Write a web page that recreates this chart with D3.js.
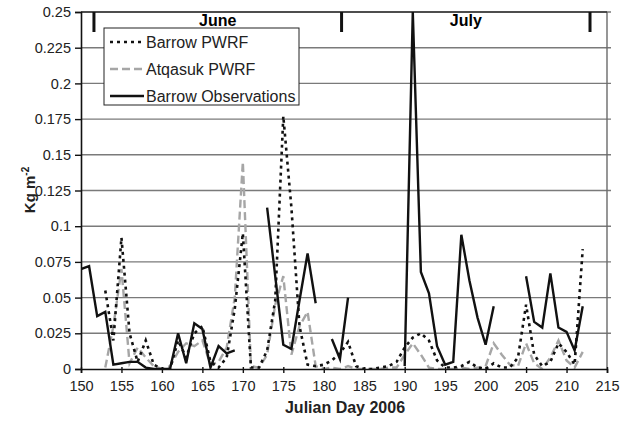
<!DOCTYPE html>
<html><head><meta charset="utf-8">
<script src="https://cdn.jsdelivr.net/npm/d3@7/dist/d3.min.js"></script>
<style>body{margin:0;background:#fff}svg{display:block}</style>
</head><body><svg id="c" width="628" height="421"></svg>
<script>
// ---- data (Julian days 150..212) ----
const days = d3.range(150, 213);
const barrowObs = [0.070,0.072,0.037,0.040,0.003,0.004,0.005,0.005,0.001,0,
  0,0,0.025,0.004,0.032,0.028,0.001,0.016,0.011,0.013,
  null,null,null,0.113,0.065,0.017,0.014,0.048,0.081,0.046,
  null,0.021,0.007,0.050,null,null,null,null,null,null,
  0.002,0.25,0.068,0.053,0.016,0.003,0.005,0.094,0.062,0.036,
  0.017,0.044,null,null,null,0.065,0.033,0.029,0.067,0.029,
  0.026,0.013,0.044];
const barrowPWRF = [null,null,null,0.055,0.02,0.092,0.025,0.005,0.02,0.003,
  0,0,0.02,0.008,0.025,0.03,0.005,0.001,0.008,0.042,
  0.095,0.001,0.001,0.013,0.048,0.177,0.113,0.03,0.003,0.002,
  0.003,0.006,0.011,0.019,0.002,0,0,0.001,0.002,0.005,
  0.015,0.022,0.025,0.02,0.006,0.001,0.001,0.002,0.005,0.001,
  0,0.004,0.001,0.001,0.008,0.045,0.01,0.002,0.005,0.018,
  0.012,0.003,0.084];
const atqasukPWRF = [null,null,null,0.001,0.03,0.07,0.004,0.015,0.008,0.002,
  0,0.002,0.012,0.018,0.016,0.02,0.003,0.005,0.015,0.05,
  0.145,0.002,0.001,0.01,0.045,0.065,0.01,0.03,0.04,0.002,
  0,0.001,0,0.002,0,0,0,0,0.001,0.001,
  0.01,0.018,0.01,0.001,0,0,0,0.001,0,0.001,
  0.002,0.018,0.01,0.003,0.002,0.018,0.004,0,0.008,0.02,
  0.006,0.001,0.012];
const xTicks = d3.range(150, 216, 5);
const yTicks = [0,0.025,0.05,0.075,0.1,0.125,0.15,0.175,0.2,0.225,0.25];
const yTickLabels = ["0","0.025","0.05","0.075","0.1","0.125","0.15","0.175","0.2","0.225","0.25"];
const monthNames = ["June","July"];
const monthBounds = [151.6,182.2,212.9];
const seriesNames = ["Barrow PWRF","Atqasuk PWRF","Barrow Observations"];

// ---- layout ----
const L = 81, R = 607, T = 12, B = 369;
const svg = d3.select("#c");
const x = d3.scaleLinear().domain([150,215]).range([L,R]);
const y = d3.scaleLinear().domain([0,0.25]).range([B,T]);
const font = "Liberation Sans, Arial, sans-serif";

// gridlines
svg.append("g").selectAll("line").data(yTicks.slice(1)).join("line")
  .attr("x1", L).attr("x2", R+4).attr("y1", d=>y(d)).attr("y2", d=>y(d))
  .attr("stroke", "#7a7a7a").attr("stroke-width", 1.4);

// right border
svg.append("line").attr("x1",R).attr("x2",R).attr("y1",T).attr("y2",B)
  .attr("stroke","#6a6a6a").attr("stroke-width",1.4);
// top border
svg.append("line").attr("x1",L).attr("x2",R).attr("y1",T).attr("y2",T)
  .attr("stroke","#333").attr("stroke-width",1.4);

// clip
svg.append("clipPath").attr("id","clip").append("rect")
  .attr("x",L).attr("y",T).attr("width",R-L).attr("height",B-T);

const mk = (vals) => days.map((d,i)=>({d, v: vals[i]}));
const line = d3.line().defined(p=>p.v!==null).x(p=>x(p.d)).y(p=>y(p.v));
const g = svg.append("g").attr("clip-path","url(#clip)");

g.append("path").datum(mk(atqasukPWRF)).attr("d", line)
  .attr("fill","none").attr("stroke","#a6a6a6").attr("stroke-width",2.4)
  .attr("stroke-dasharray","8,4");
g.append("path").datum(mk(barrowPWRF)).attr("d", line)
  .attr("fill","none").attr("stroke","#111").attr("stroke-width",2.6)
  .attr("stroke-dasharray","3,4");
g.append("path").datum(mk(barrowObs)).attr("d", line)
  .attr("fill","none").attr("stroke","#111").attr("stroke-width",2.4)
  .attr("stroke-linejoin","miter");

// month markers
svg.append("g").selectAll("line").data(monthBounds).join("line")
  .attr("x1",d=>x(d)).attr("x2",d=>x(d)).attr("y1",T).attr("y2",T+20)
  .attr("stroke","#111").attr("stroke-width",3);
svg.append("g").selectAll("text").data(monthNames).join("text")
  .attr("x",(d,i)=>x((monthBounds[i]+monthBounds[i+1])/2))
  .attr("y",T+14).attr("text-anchor","middle")
  .attr("font-family",font).attr("font-weight","bold").attr("font-size",16)
  .text(d=>d);

// axes
const yAxis = d3.axisLeft(y).tickValues(yTicks).tickFormat((d,i)=>yTickLabels[i]).tickSize(6).tickPadding(4);
const ya = svg.append("g").attr("transform",`translate(${L},0)`).call(yAxis);
ya.select(".domain").attr("stroke","#111").attr("stroke-width",1.6);
ya.selectAll(".tick line").attr("stroke","#111").attr("stroke-width",1.4);
ya.selectAll("text").attr("font-family",font).attr("font-size",14.5).attr("fill","#222");

const xAxis = d3.axisBottom(x).tickValues(xTicks).tickSize(4).tickPadding(8);
const xa = svg.append("g").attr("transform",`translate(0,${B})`).call(xAxis);
xa.select(".domain").attr("stroke","#111").attr("stroke-width",1.6);
xa.selectAll(".tick line").attr("y1",-2).attr("stroke","#111").attr("stroke-width",1.4);
xa.selectAll("text").attr("font-family",font).attr("font-size",14.5).attr("fill","#222");

// axis titles
svg.append("text").attr("x",(L+R)/2 + 1).attr("y",413).attr("text-anchor","middle")
  .attr("font-family",font).attr("font-weight","bold").attr("font-size",16).attr("fill","#222")
  .text("Julian Day 2006");
const yt = svg.append("text").attr("transform","translate(35,190) rotate(-90)")
  .attr("text-anchor","middle").attr("font-family",font).attr("font-weight","bold")
  .attr("font-size",15).attr("fill","#222");
yt.append("tspan").text("Kg m");
yt.append("tspan").attr("font-size",10).attr("dy",-6).text("-2");

// legend
const lg = svg.append("g");
lg.append("rect").attr("x",104).attr("y",28).attr("width",195).attr("height",77)
  .attr("fill","#fff").attr("stroke","#222").attr("stroke-width",1);
const styles = [
  {stroke:"#111", dash:"3,4", w:2.6},
  {stroke:"#a6a6a6", dash:"8,4", w:2.4},
  {stroke:"#111", dash:null, w:2.4}
];
seriesNames.forEach((n,i)=>{
  const yy = 42 + i*27;
  lg.append("line").attr("x1",110).attr("x2",144).attr("y1",yy).attr("y2",yy)
    .attr("stroke",styles[i].stroke).attr("stroke-width",styles[i].w)
    .attr("stroke-dasharray",styles[i].dash);
  lg.append("text").attr("x",146).attr("y",yy+5.5).attr("font-family",font)
    .attr("font-size",16).attr("fill","#222").text(n);
});
</script></body></html>
